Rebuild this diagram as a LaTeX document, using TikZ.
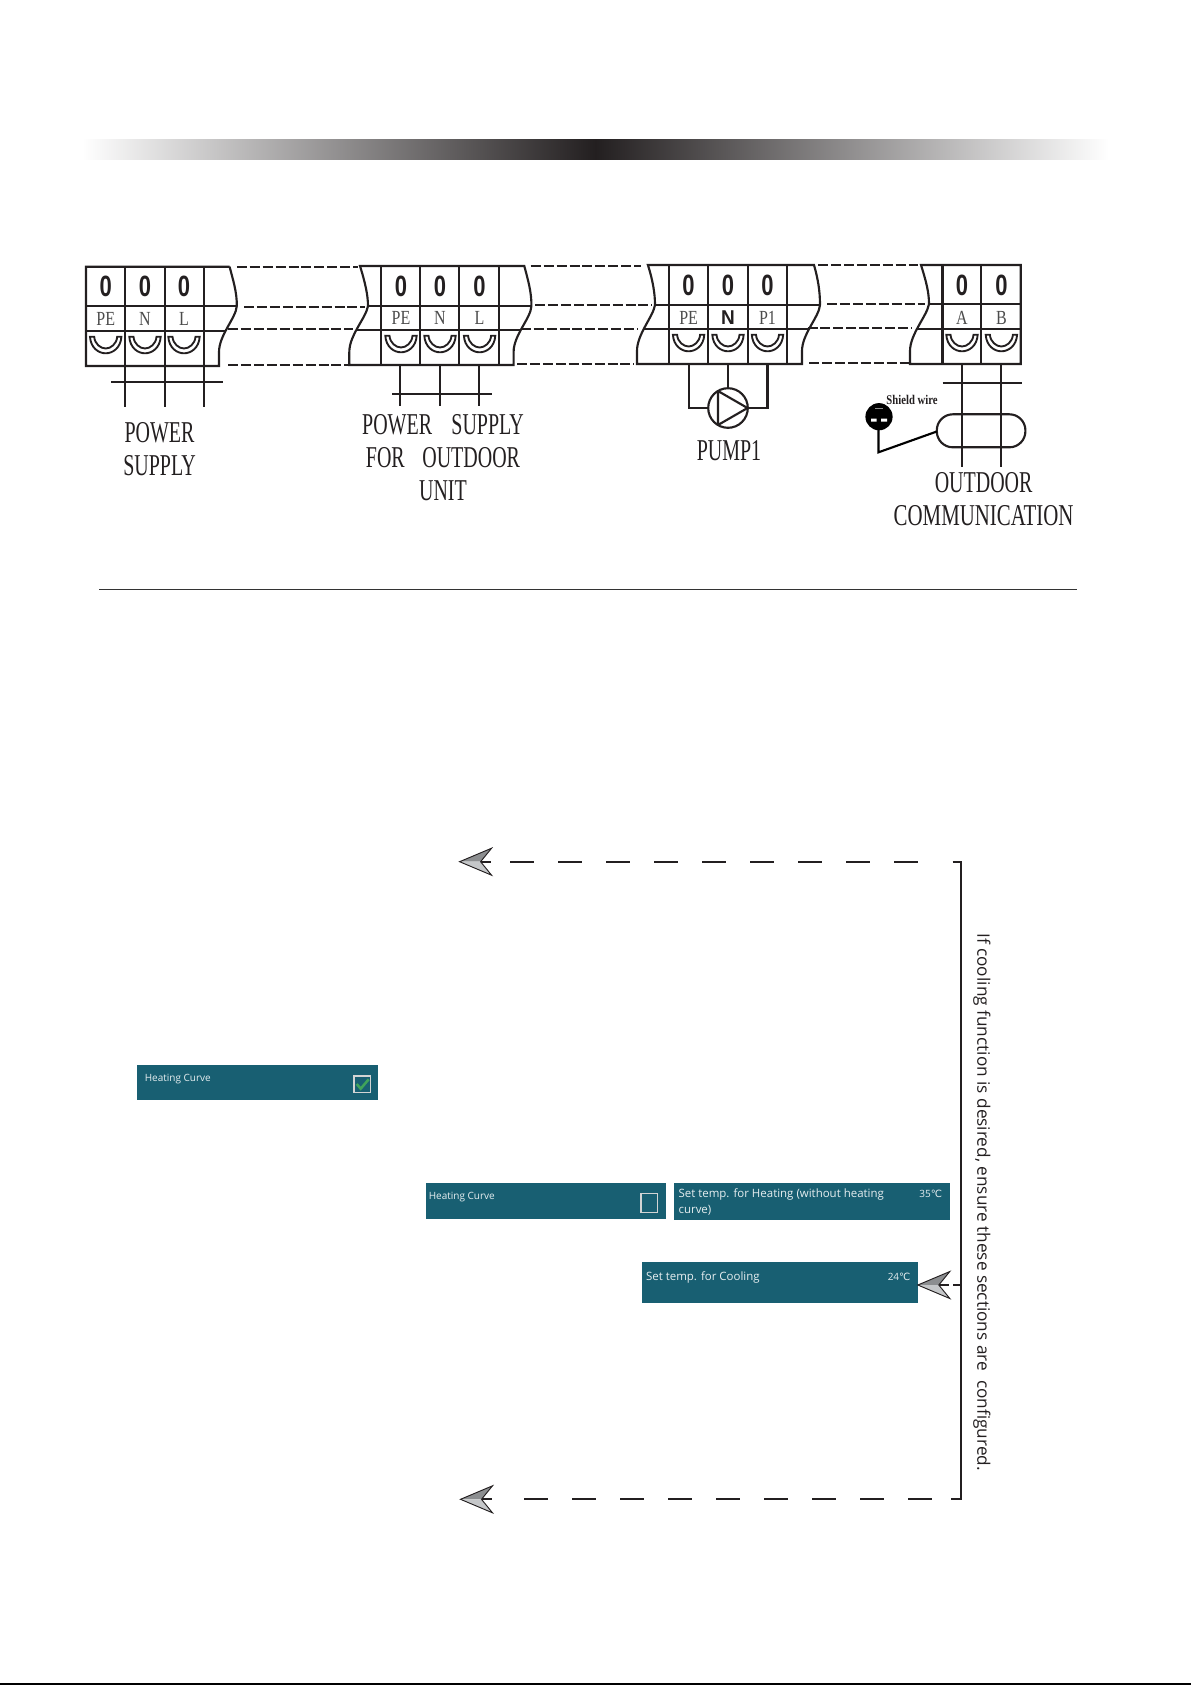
\documentclass[tikz,border=0pt]{standalone}
\usepackage{fontspec}
\setmainfont{Liberation Serif}
\newfontfamily\digitfont{Liberation Sans}
\newfontfamily\panelfont{Open Sans}
\newfontfamily\degreefont{DejaVu Sans}
\newcommand{\narrowtext}[2][0.66]{\scalebox{#1}[1]{#2}}
\definecolor{panelteal}{HTML}{185F72}
\definecolor{panelwhite}{HTML}{E6EEF0}
\definecolor{boxgrey}{HTML}{D2D4D4}
\definecolor{tickgreen}{HTML}{3FA35A}
\definecolor{inkblack}{HTML}{231F20}
\begin{document}
\begin{tikzpicture}[x=0.75pt,y=0.75pt,yscale=-1,xscale=1,
    frameline/.style={line width=1.6pt,color=inkblack},
    wireline/.style={line width=1.5pt,color=inkblack},
    linkline/.style={line width=1.5pt,color=inkblack,dash pattern={on 7.5pt off 2.2pt}},
    runline/.style={line width=1.5pt,color=inkblack,dash pattern={on 18pt off 18pt}},
    digit/.style={font=\digitfont\bfseries\fontsize{22}{22}\selectfont,inner sep=0pt,color=inkblack},
    pinlabel/.style={font=\fontsize{15}{15}\selectfont,inner sep=0pt,color=black!70},
    biglabel/.style={font=\fontsize{22.7}{25}\selectfont,inner sep=0pt,align=center,color=inkblack},
    panelbox/.style={fill=panelteal,draw=none},
    paneltext/.style={font=\panelfont\fontsize{7.5}{7.5}\selectfont,inner sep=0pt,color=panelwhite},
    setuptext/.style={paneltext,font=\panelfont\fontsize{8.6}{8.6}\selectfont},
    pics/cupmark/.style={code={
        \draw [line width=1.4pt,color=inkblack,fill=white] (-15.7,8.3) -- (-11.5,8.3) .. controls (-11,1) and (-5,-3.5) .. (0,-3.5) .. controls (5,-3.5) and (11,1) .. (11.5,8.3) -- (15.7,8.3) .. controls (15,-3) and (7,-8.3) .. (0,-8.3) .. controls (-7,-8.3) and (-15,-3) .. (-15.7,8.3) -- cycle ;
    }},
    pics/greyarrow/.style={code={
        \draw [line width=1.5pt,color=inkblack] (21,0) -- (31,0) ;
        \fill [color={rgb, 255:red, 140; green, 142; blue, 144 }] (0,0) -- (32,13.5) -- (21,0) -- cycle ;
        \fill [color={rgb, 255:red, 197; green, 199; blue, 201 }] (0,0) -- (32,-13.5) -- (21,0) -- cycle ;
        \draw [line width=0.7pt,color=inkblack] (0,0) -- (32,-13.5) -- (21,0) -- (32,13.5) -- cycle ;
    }}]
\useasboundingbox (0,0) rectangle (1191,1685);
%Shape: Title bar
\shade [left color=white,right color=white,middle color=inkblack] (82,139.7) rectangle (1109,159) ;
%Straight Lines: rule and page edge
\draw [line width=0.6pt,color=black!80] (99,589) -- (1077,589) ;
\fill [color=black] (0,1683.4) rectangle (1191,1685) ;

%Shape: Block power supply
\draw [frameline] (229.6,266.7) -- (86,266.7) -- (86,366) -- (219,366) -- (219,352) .. controls (219,335) and (236,318) .. (236.8,306) .. controls (237,292) and (233,280) .. (229.6,266.7) ;
\draw [frameline] (86,306) -- (236.8,306) (86,330.7) -- (226,330.7) ;
\draw [frameline] (125.4,266.7) -- (125.4,406.7) (164.6,266.7) -- (164.6,406.7) (204.3,266.7) -- (204.3,406.7) ;
\draw [wireline] (111,381.7) -- (222.5,381.7) ;
\node [digit] (zeroa) at (105.7,286.7) {\narrowtext[0.75]{0}};
\node [digit] (zerob) at (145,286.7) {\narrowtext[0.75]{0}};
\node [digit] (zeroc) at (184,286.7) {\narrowtext[0.75]{0}};
\node [pinlabel] (pina) at (105.7,319) {\narrowtext[0.8]{PE}};
\node [pinlabel] (pinb) at (145,319) {\narrowtext[0.8]{N}};
\node [pinlabel] (pinc) at (184,319) {\narrowtext[0.8]{L}};
\pic at (105.7,345) {cupmark};
\pic at (145,345) {cupmark};
\pic at (184,345) {cupmark};
\node [biglabel] (powerlabel) at (159.5,449) {\narrowtext{POWER}\\\narrowtext{SUPPLY}};

%Shape: Block outdoor unit
\draw [frameline] (360,266) .. controls (365,282) and (368,295) .. (368,306) .. controls (366,318) and (349.3,335) .. (349.3,352) -- (349.3,365) -- (513.6,365) -- (513.6,352) .. controls (513.6,335) and (531,318) .. (531.4,306) .. controls (531.6,292) and (528,280) .. (524.3,266) -- cycle ;
\draw [frameline] (368,306) -- (531.4,306) (356,330) -- (520,330) ;
\draw [frameline] (380.7,266) -- (380.7,365) (420,266) -- (420,365) (459.3,266) -- (459.3,365) (499.3,266) -- (499.3,365) ;
\draw [line width=1.9pt,color=inkblack] (400,365) -- (400,405.7) (479,365) -- (479,405.7) ;
\draw [wireline] (439.6,365) -- (439.6,405.7) ;
\draw [wireline] (392,394.3) -- (492,394.3) ;
\node [digit] (zerod) at (401,286) {\narrowtext[0.75]{0}};
\node [digit] (zeroe) at (440,286) {\narrowtext[0.75]{0}};
\node [digit] (zerof) at (479.6,286) {\narrowtext[0.75]{0}};
\node [pinlabel] (pind) at (401,318) {\narrowtext[0.8]{PE}};
\node [pinlabel] (pine) at (440,318) {\narrowtext[0.8]{N}};
\node [pinlabel] (pinf) at (479.6,318) {\narrowtext[0.8]{L}};
\pic at (401,344) {cupmark};
\pic at (440,344) {cupmark};
\pic at (479.6,344) {cupmark};
\node [biglabel] (unitlabel) at (443,457.5) {\narrowtext{POWER\hspace{22pt}SUPPLY}\\\narrowtext{FOR\hspace{20pt}OUTDOOR}\\\narrowtext{UNIT}};

%Shape: Block pump
\draw [frameline] (647.9,265) .. controls (653,281) and (655,294) .. (655,305) .. controls (653,317) and (637,334) .. (637,351) -- (637,364) -- (802,364) -- (802,351) .. controls (802,334) and (819,317) .. (820,305) .. controls (820,291) and (818,279) .. (814,265) -- cycle ;
\draw [frameline] (655,305) -- (820,305) (644,329.3) -- (808,329.3) ;
\draw [frameline] (669.3,265) -- (669.3,364) (708.2,265) -- (708.2,364) (747.9,265) -- (747.9,364) ;
\draw [line width=2.2pt,color=inkblack] (787,265) -- (787,364) ;
\draw [frameline] (728,364) -- (728,388.4) ;
\draw [frameline] (688.6,364) -- (688.6,408) -- (708.4,408) (747.6,408) -- (767.5,408) -- (767.5,364) ;
\draw [frameline] (728,408) circle [radius=19.8] ;
\draw [frameline,line join=round] (718,391) -- (747.5,408) -- (718,425) -- cycle ;
\node [digit] (zerog) at (688.6,285) {\narrowtext[0.75]{0}};
\node [digit] (zeroh) at (728,285) {\narrowtext[0.75]{0}};
\node [digit] (zeroi) at (767.5,285) {\narrowtext[0.75]{0}};
\node [pinlabel] (ping) at (688.6,318) {\narrowtext[0.8]{PE}};
\node [pinlabel,font=\digitfont\bfseries\fontsize{15}{15}\selectfont,color=inkblack] (pinh) at (728,318) {\narrowtext[0.95]{N}};
\node [pinlabel] (pini) at (767.5,318) {\narrowtext[0.8]{P1}};
\pic at (688.6,343) {cupmark};
\pic at (728,343) {cupmark};
\pic at (767.5,343) {cupmark};
\node [biglabel] (pumplabel) at (729,451) {\narrowtext{PUMP1}};

%Shape: Block communication
\draw [frameline] (921,265) .. controls (926,281) and (929,292) .. (929,304) .. controls (927,316) and (910,334) .. (910,351) -- (910,364) -- (1020.7,364) -- (1020.7,265) -- cycle ;
\draw [frameline] (929,304) -- (1020.7,304) (917,329.3) -- (1020.7,329.3) ;
\draw [frameline] (942.5,265) -- (942.5,364) (981.4,265) -- (981.4,364) ;
\draw [wireline] (962,364) -- (962,466.7) (1001.4,364) -- (1001.4,466.7) ;
\draw [wireline] (942.5,382.7) -- (1021.8,382.7) ;
\draw [frameline,rounded corners=12pt] (936.8,414.3) rectangle (1025.4,447.3) ;
\node [digit] (zeroj) at (962,285) {\narrowtext[0.75]{0}};
\node [digit] (zerok) at (1001.4,285) {\narrowtext[0.75]{0}};
\node [pinlabel] (pinj) at (962,318) {\narrowtext[0.8]{A}};
\node [pinlabel] (pink) at (1001.4,318) {\narrowtext[0.8]{B}};
\pic at (962,343) {cupmark};
\pic at (1001.4,343) {cupmark};
%Shape: Shield earth
\fill [color=black] (879,416.7) circle [radius=13.6] ;
\fill [color=black!45] (875,407.6) rectangle (883,408.6) ;
\fill [color=white] (871,418.5) rectangle (876.5,421.5) (881,418.5) rectangle (887,421.5) ;
\draw [frameline,color=black] (878.5,425) -- (878.5,452.3) -- (936.8,431.5) ;
\node [inner sep=0pt,font=\bfseries\fontsize{10}{10}\selectfont,color=inkblack] (shieldlabel) at (912,400) {\narrowtext[0.8]{Shield wire}};
\node [biglabel] (commlabel) at (983.6,499) {\narrowtext{OUTDOOR}\\\narrowtext[0.69]{COMMUNICATION}};

%Straight Lines: links between blocks
\draw [linkline] (236.8,266.7) -- (358,266.7) ;
\draw [linkline] (244,306.7) -- (365,306.7) ;
\draw [linkline] (228,329.3) -- (353,329.3) ;
\draw [linkline] (228,365) -- (347.5,365) ;
\draw [linkline] (530.7,266) -- (641,266) ;
\draw [linkline] (535,305.3) -- (652,305.3) ;
\draw [linkline] (520.7,329) -- (638,329) ;
\draw [linkline] (517,364) -- (634,364) ;
\draw [linkline] (818,265) -- (918,265) ;
\draw [linkline] (827,304) -- (925,304) ;
\draw [linkline] (807.5,328.3) -- (911,328.3) ;
\draw [linkline] (809,362.7) -- (909,362.7) ;

%Shape: Panels
\fill [panelbox] (137,1065) rectangle (378.3,1100) ;
\node [paneltext,anchor=west] (curveon) at (144.5,1079.5) {Heating Curve};
\draw [line width=1pt,color=boxgrey] (354,1076) rectangle (370.7,1092.7) ;
\draw [line width=1.9pt,color=tickgreen] (356.7,1084) -- (360.7,1088.7) -- (368.7,1079.3) ;
\fill [panelbox] (426,1183) rectangle (665.6,1219) ;
\node [paneltext,anchor=west] (curveoff) at (428.5,1197.5) {Heating Curve};
\draw [line width=1pt,color=boxgrey] (641.1,1193.3) rectangle (657.7,1212.3) ;
\fill [panelbox] (674.3,1183) rectangle (950.2,1219.7) ;
\node [setuptext,anchor=west] (heatset) at (678.3,1194) {Set temp. for Heating (without heating};
\node [setuptext,anchor=west] (heatwrap) at (678.3,1210) {curve)};
\node [paneltext,anchor=east] (heatval) at (942.3,1194) {35{\degreefont ℃}};
\fill [panelbox] (641.5,1262) rectangle (917.8,1303) ;
\node [setuptext,anchor=west] (coolset) at (645.8,1277) {Set temp. for Cooling};
\node [paneltext,anchor=east] (coolval) at (910.7,1277) {24{\degreefont ℃}};

%Straight Lines: dashed return path
\coordinate (cornertop) at (961,861.7);
\coordinate (cornerbot) at (961,1499.3);
\coordinate (stubtop) at (952.5,861.7);
\coordinate (stubbot) at (951.4,1499.3);
\coordinate (stubmid) at (953,1285);
\coordinate (midjoin) at (961,1285);
\coordinate (runtopa) at (917.9,861.7);
\coordinate (runtopb) at (510,861.7);
\coordinate (runbota) at (931.6,1499.3);
\coordinate (runbotb) at (524.1,1499.3);
\draw [line width=1.5pt,color=inkblack] (stubtop) -- (cornertop) -- (cornerbot) -- (stubbot) ;
\draw [line width=1.5pt,color=inkblack] (stubmid) -- (midjoin) ;
\draw [runline] (runtopa) -- (runtopb) ;
\draw [runline] (runbota) -- (runbotb) ;
\pic at (459.6,861.7) {greyarrow};
\pic at (917.8,1285) {greyarrow};
\pic at (460.5,1499.3) {greyarrow};
% Text Node
\node [rotate=-90,inner sep=0pt,font=\panelfont\fontsize{12.9}{12.9}\selectfont,color=inkblack] (coolnote) at (982,1202) {If cooling function is desired, ensure these sections are\ \ configured.};
\end{tikzpicture}
\end{document}
